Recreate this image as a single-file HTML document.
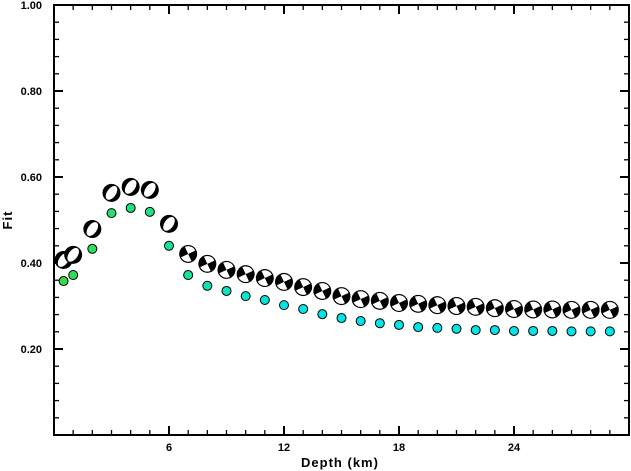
<!DOCTYPE html>
<html><head><meta charset="utf-8"><style>
html,body{margin:0;padding:0;background:#fff;}
svg{display:block;font-family:"Liberation Sans",sans-serif;font-weight:bold;}
</style></head><body>
<svg id="chart" width="631" height="471" viewBox="0 0 631 471"></svg>
<script>
const depths=[0.5,1,2,3,4,5,6,7,8,9,10,11,12,13,14,15,16,17,18,19,20,21,22,23,24,25,26,27,28,29];
const mechFit=[0.407,0.419,0.479,0.563,0.577,0.570,0.491,0.421,0.398,0.384,0.374,0.365,0.356,0.344,0.335,0.323,0.316,0.312,0.307,0.305,0.302,0.300,0.298,0.295,0.293,0.292,0.292,0.291,0.291,0.291];
const dotFit=[0.358,0.372,0.433,0.516,0.528,0.519,0.440,0.372,0.347,0.335,0.323,0.314,0.302,0.293,0.281,0.272,0.265,0.260,0.256,0.251,0.249,0.247,0.244,0.244,0.242,0.242,0.242,0.241,0.241,0.241];
const xTicks=[6,12,18,24];
const yTicks=[0.20,0.40,0.60,0.80,1.00];
const NS="http://www.w3.org/2000/svg";
const svg=document.getElementById('chart');
const L=54,R=629,T=5,B=435;
const xs=d=>L+(d/30)*(R-L);
const ys=v=>B-v*(B-T);
function mk(tag,attrs,parent){const e=document.createElementNS(NS,tag);for(const k in attrs)e.setAttribute(k,attrs[k]);(parent||svg).appendChild(e);return e;}
const frame=mk('rect',{x:L,y:T,width:R-L,height:B-T,fill:'none',stroke:'#000','stroke-width':2});


for(let d=1;d<30;d++){
  const major=d%6===0;const len=major?9:5;const x=xs(d);
  const t1=mk('line',{x1:x,x2:x,y1:B,y2:B-len,stroke:'#000','stroke-width':major?2:1.3});
  
  
  const t2=mk('line',{x1:x,x2:x,y1:T,y2:T+len,stroke:'#000','stroke-width':major?2:1.3});
  
  
}
xTicks.forEach(d=>{
  const t=mk('text',{x:xs(d),y:B+16,'text-anchor':'middle','font-size':11});
  t.textContent=d;
  
  
});
for(let i=1;i<25;i++){
  const v=i*0.04;const major=i%5===0;const len=major?9:5;const y=ys(v);
  const t1=mk('line',{x1:L,x2:L+len,y1:y,y2:y,stroke:'#000','stroke-width':major?2:1.3});
  
  
  const t2=mk('line',{x1:R,x2:R-len,y1:y,y2:y,stroke:'#000','stroke-width':major?2:1.3});
  
  
}
yTicks.forEach(v=>{
  const t=mk('text',{x:42,y:ys(v)+4,'text-anchor':'end','font-size':11});
  t.textContent=v.toFixed(2);
  
  
});
const xt=mk('text',{x:340,y:467,'text-anchor':'middle','font-size':13,'letter-spacing':1});
xt.textContent='Depth (km)';


const yt=mk('text',{x:12,y:220,'text-anchor':'middle','font-size':13,transform:'rotate(-90 12 220)','letter-spacing':1});
yt.textContent='Fit';


dotFit.forEach((v,i)=>{
  const f=Math.min(1,i/12);
  const g=Math.round(221+(230-221)*f), b=Math.round(68+(230-68)*f), r=Math.round(51*(1-f));
  const c=mk('circle',{cx:xs(depths[i]),cy:ys(v),r:4.5,fill:`rgb(${r},${g},${b})`,stroke:'#000','stroke-width':1});
  
  
});
mechFit.forEach((v,i)=>{
  const cx=xs(depths[i]),cy=ys(v),r=9;
  const g=mk('g',{transform:`translate(${cx},${cy})`});
  
  
  mk('circle',{r:r,fill:'#000'},g);
  if(i<7){
    mk('ellipse',{rx:r*0.5,ry:r-1.2,fill:'#fff',transform:'rotate(35)'},g);
  }else{
    const a=-25;const q=r-1.2;
    mk('path',{d:`M0,0 L${q},0 A${q},${q} 0 0 0 0,${-q} Z`,fill:'#fff',transform:`rotate(${a})`},g);
    mk('path',{d:`M0,0 L${-q},0 A${q},${q} 0 0 0 0,${q} Z`,fill:'#fff',transform:`rotate(${a})`},g);
  }
});
</script>
</body></html>
